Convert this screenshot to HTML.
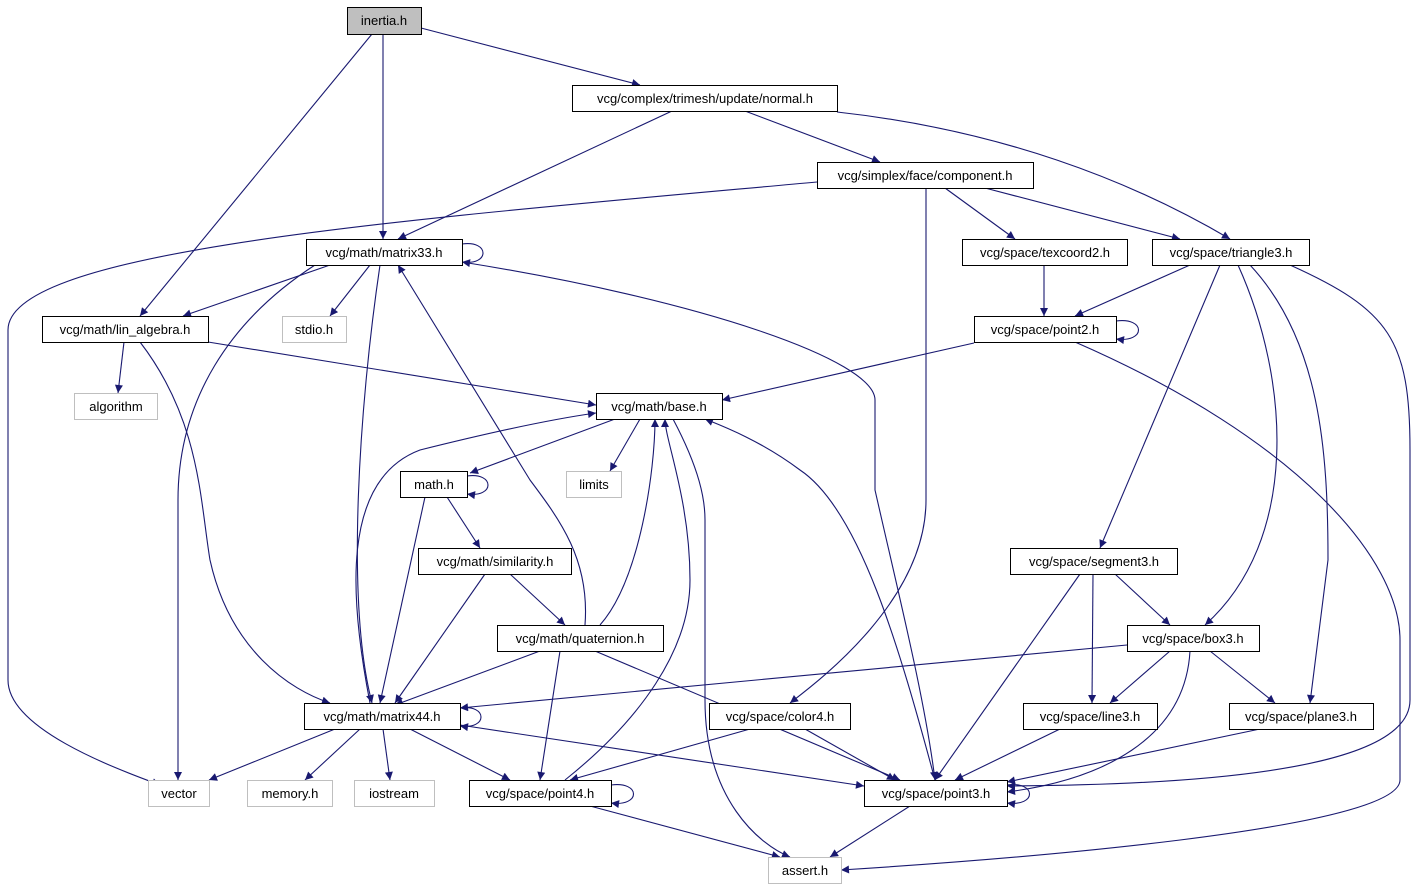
<!DOCTYPE html>
<html><head><meta charset="utf-8"><style>
html,body{margin:0;padding:0;background:#fff;}
svg{display:block;}
text{font-family:"Liberation Sans","DejaVu Sans",sans-serif;font-size:13px;fill:#000;}
.n{fill:#fff;stroke:#000;stroke-width:1;}
.g{fill:#fff;stroke:#bfbfbf;stroke-width:1;}
.e{fill:none;stroke:#191970;stroke-width:1.1;marker-end:url(#a);}
</style></head><body>
<svg width="1419" height="891" viewBox="0 0 1419 891" xmlns="http://www.w3.org/2000/svg">
<defs><marker id="a" viewBox="0 0 10 10" refX="10" refY="5" markerWidth="10" markerHeight="8" markerUnits="userSpaceOnUse" orient="auto"><path d="M0,0 L10,5 L0,10 z" fill="#191970"/></marker></defs>
<g>
<path class="e" d="M421,28 L640,85"/>
<path class="e" d="M383,34 L383,239"/>
<path class="e" d="M372,34 L140,316"/>
<path class="e" d="M672,111 L398,239"/>
<path class="e" d="M745,111 L880,162"/>
<path class="e" d="M837,112 C1000,130 1130,180 1230,239"/>
<path class="e" d="M817,182 C400,220 8,250 8,330 L8,680 C8,730 120,770 160,785"/>
<path class="e" d="M945,188 L1015,239"/>
<path class="e" d="M985,188 L1180,239"/>
<path class="e" d="M926,188 L926,500 C926,600 820,680 790,703"/>
<path class="e" d="M462,244 C490,240 490,266 462,262"/>
<path class="e" d="M330,265 L183,316"/>
<path class="e" d="M370,265 L330,316"/>
<path class="e" d="M315,265 C230,320 178,400 178,500 L178,780"/>
<path class="e" d="M380,265 C360,400 345,600 372,703"/>
<path class="e" d="M462,262 C700,300 875,360 875,400 L875,490 C900,600 925,700 935,780"/>
<path class="e" d="M585,625 C590,560 560,520 530,480 L398,265"/>
<path class="e" d="M1044,265 L1044,316"/>
<path class="e" d="M1190,265 L1075,316"/>
<path class="e" d="M1220,265 L1100,548"/>
<path class="e" d="M1238,265 C1290,380 1300,540 1205,625"/>
<path class="e" d="M1250,265 C1320,340 1328,450 1328,560 L1310,703"/>
<path class="e" d="M1290,265 C1390,310 1410,340 1410,450 L1410,700 C1410,770 1200,785 1007,786"/>
<path class="e" d="M1116,321 C1146,317 1146,343 1116,339"/>
<path class="e" d="M974,343 L722,400"/>
<path class="e" d="M1075,342 C1300,440 1400,560 1400,640 L1400,780 C1400,830 1000,860 841,870"/>
<path class="e" d="M124,342 L118,393"/>
<path class="e" d="M208,342 L596,405"/>
<path class="e" d="M140,342 C200,420 200,500 210,560 C230,650 290,690 330,703"/>
<path class="e" d="M615,419 L470,473"/>
<path class="e" d="M640,419 L610,471"/>
<path class="e" d="M673,419 C700,470 705,500 705,520 L705,700 C705,800 760,845 790,857"/>
<path class="e" d="M370,703 C350,600 340,480 420,450 C500,430 560,418 596,413"/>
<path class="e" d="M467,476 C495,472 495,498 467,494"/>
<path class="e" d="M447,497 L480,548"/>
<path class="e" d="M425,497 L380,703"/>
<path class="e" d="M510,574 L565,625"/>
<path class="e" d="M485,574 L395,703"/>
<path class="e" d="M600,625 C640,580 655,470 655,419"/>
<path class="e" d="M540,651 L395,705"/>
<path class="e" d="M560,651 L540,780"/>
<path class="e" d="M595,651 L900,780"/>
<path class="e" d="M565,780 C640,720 690,650 690,580 C690,500 665,440 665,419"/>
<path class="e" d="M935,780 C900,650 860,510 800,470 C760,440 720,425 705,419"/>
<path class="e" d="M1115,574 L1170,625"/>
<path class="e" d="M1093,574 L1092,703"/>
<path class="e" d="M1080,574 L935,780"/>
<path class="e" d="M1127,645 L460,708"/>
<path class="e" d="M1170,651 L1110,703"/>
<path class="e" d="M1210,651 L1275,703"/>
<path class="e" d="M1190,651 C1185,740 1100,780 1007,792"/>
<path class="e" d="M460,708 C488,704 488,730 460,726"/>
<path class="e" d="M335,729 L209,780"/>
<path class="e" d="M360,729 L305,780"/>
<path class="e" d="M383,729 L390,780"/>
<path class="e" d="M410,729 L510,780"/>
<path class="e" d="M460,725 L864,786"/>
<path class="e" d="M750,729 L570,780"/>
<path class="e" d="M805,729 L895,780"/>
<path class="e" d="M1060,729 L955,780"/>
<path class="e" d="M1260,729 L1007,782"/>
<path class="e" d="M1007,785 C1037,781 1037,807 1007,803"/>
<path class="e" d="M611,785 C641,781 641,807 611,803"/>
<path class="e" d="M590,806 L780,857"/>
<path class="e" d="M910,806 L830,857"/>
</g>
<g>
<rect x="347.5" y="7.5" width="74" height="27" fill="#bfbfbf" stroke="#000"/><text x="384" y="25" text-anchor="middle">inertia.h</text>
<rect class="n" x="572.5" y="85.5" width="265" height="26"/><text x="705" y="103" text-anchor="middle">vcg/complex/trimesh/update/normal.h</text>
<rect class="n" x="817.5" y="162.5" width="216" height="26"/><text x="925" y="180" text-anchor="middle">vcg/simplex/face/component.h</text>
<rect class="n" x="306.5" y="239.5" width="156" height="26"/><text x="384" y="257" text-anchor="middle">vcg/math/matrix33.h</text>
<rect class="n" x="962.5" y="239.5" width="165" height="26"/><text x="1045" y="257" text-anchor="middle">vcg/space/texcoord2.h</text>
<rect class="n" x="1152.5" y="239.5" width="157" height="26"/><text x="1231" y="257" text-anchor="middle">vcg/space/triangle3.h</text>
<rect class="n" x="42.5" y="316.5" width="166" height="26"/><text x="125" y="334" text-anchor="middle">vcg/math/lin_algebra.h</text>
<rect class="g" x="282.5" y="316.5" width="64" height="26"/><text x="314" y="334" text-anchor="middle">stdio.h</text>
<rect class="n" x="974.5" y="316.5" width="142" height="26"/><text x="1045" y="334" text-anchor="middle">vcg/space/point2.h</text>
<rect class="g" x="74.5" y="393.5" width="83" height="26"/><text x="116" y="411" text-anchor="middle">algorithm</text>
<rect class="n" x="596.5" y="393.5" width="126" height="26"/><text x="659" y="411" text-anchor="middle">vcg/math/base.h</text>
<rect class="g" x="566.5" y="471.5" width="55" height="26"/><text x="594" y="489" text-anchor="middle">limits</text>
<rect class="n" x="400.5" y="471.5" width="67" height="26"/><text x="434" y="489" text-anchor="middle">math.h</text>
<rect class="n" x="418.5" y="548.5" width="153" height="26"/><text x="495" y="566" text-anchor="middle">vcg/math/similarity.h</text>
<rect class="n" x="1010.5" y="548.5" width="167" height="26"/><text x="1094" y="566" text-anchor="middle">vcg/space/segment3.h</text>
<rect class="n" x="497.5" y="625.5" width="166" height="26"/><text x="580" y="643" text-anchor="middle">vcg/math/quaternion.h</text>
<rect class="n" x="1127.5" y="625.5" width="132" height="26"/><text x="1193" y="643" text-anchor="middle">vcg/space/box3.h</text>
<rect class="n" x="304.5" y="703.5" width="156" height="26"/><text x="382" y="721" text-anchor="middle">vcg/math/matrix44.h</text>
<rect class="n" x="709.5" y="703.5" width="141" height="26"/><text x="780" y="721" text-anchor="middle">vcg/space/color4.h</text>
<rect class="n" x="1023.5" y="703.5" width="134" height="26"/><text x="1090" y="721" text-anchor="middle">vcg/space/line3.h</text>
<rect class="n" x="1229.5" y="703.5" width="144" height="26"/><text x="1301" y="721" text-anchor="middle">vcg/space/plane3.h</text>
<rect class="g" x="148.5" y="780.5" width="61" height="26"/><text x="179" y="798" text-anchor="middle">vector</text>
<rect class="g" x="247.5" y="780.5" width="85" height="26"/><text x="290" y="798" text-anchor="middle">memory.h</text>
<rect class="g" x="354.5" y="780.5" width="80" height="26"/><text x="394" y="798" text-anchor="middle">iostream</text>
<rect class="n" x="469.5" y="780.5" width="142" height="26"/><text x="540" y="798" text-anchor="middle">vcg/space/point4.h</text>
<rect class="n" x="864.5" y="780.5" width="143" height="26"/><text x="936" y="798" text-anchor="middle">vcg/space/point3.h</text>
<rect class="g" x="768.5" y="857.5" width="73" height="26"/><text x="805" y="875" text-anchor="middle">assert.h</text>
</g>
</svg>
</body></html>
